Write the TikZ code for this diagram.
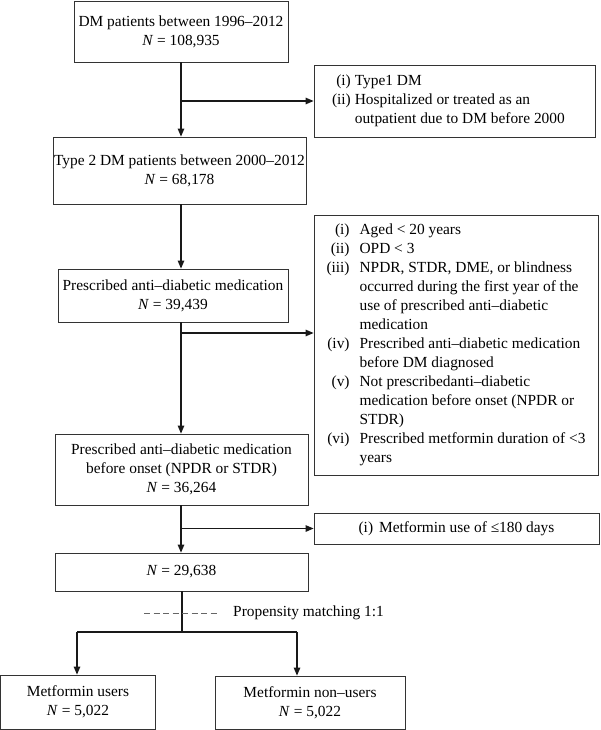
\documentclass[tikz,border=0pt]{standalone}
\usepackage{fontspec}
\setmainfont{Liberation Serif}
\usetikzlibrary{arrows.meta}
\begin{document}
\begin{tikzpicture}[x=1pt,y=-1pt,
  every node/.style={font=\fontsize{15.4}{19}\selectfont, inner sep=0pt},
  box/.style={draw=black!80, line width=0.8pt, align=center},
  exbox/.style={draw=black!80, line width=0.8pt, inner xsep=0pt},
  conn/.style={line width=1.2pt, black!90},
  arr/.style={conn, -{Triangle[length=8pt,width=6.5pt]}},
  matchline/.style={line width=1pt, black!60, dash pattern=on 6pt off 3.5pt}
]
\useasboundingbox (0,0) rectangle (600,730);
\coordinate (spine) at (181,0);

% main boxes
\node[box, minimum width=214pt, minimum height=61pt] (b1) at (181,31.5)
  {DM patients between 1996–2012\\ \textit{N} = 108,935};
\node[box, minimum width=253pt, minimum height=67pt] (b2) at (179.5,170.5)
  {Type 2 DM patients between 2000–2012\\ \textit{N} = 68,178};
\node[box, minimum width=230pt, minimum height=53pt] (b3) at (173,295.5)
  {Prescribed anti–diabetic medication\\ \textit{N} = 39,439};
\node[box, minimum width=253pt, minimum height=71pt] (b4) at (181.5,469.5)
  {Prescribed anti–diabetic medication\\ before onset (NPDR or STDR)\\ \textit{N} = 36,264};
\node[box, minimum width=253pt, minimum height=38pt] (b5) at (181.5,572)
  {\textit{N} = 29,638};
\node[box, minimum width=155pt, minimum height=54pt] (b6) at (78,702)
  {Metformin users\\ \textit{N} = 5,022};
\node[box, minimum width=190pt, minimum height=53pt] (b7) at (310,702.5)
  {Metformin non–users\\ \textit{N} = 5,022};

% exclusion boxes
\node[exbox, minimum width=281pt, minimum height=72pt] (e1) at (454.5,101)
  {\makebox[281pt][l]{\hspace{18pt}\begin{tabular}{@{}r@{\hspace{4pt}}l@{}}
  (i) & Type1 DM\\
  (ii) & Hospitalized or treated as an\\
       & outpatient due to DM before 2000
  \end{tabular}}};
\node[exbox, minimum width=284pt, minimum height=260pt] (e2) at (456,345)
  {\makebox[284pt][l]{\hspace{12.5pt}\begin{tabular}{@{}r@{\hspace{10pt}}l@{}}
  (i) & Aged < 20 years\\
  (ii) & OPD < 3\\
  (iii) & NPDR, STDR, DME, or blindness\\
        & occurred during the first year of the\\
        & use of prescribed anti–diabetic\\
        & medication\\
  (iv) & Prescribed anti–diabetic medication\\
       & before DM diagnosed\\
  (v) & Not prescribedanti–diabetic\\
      & medication before onset (NPDR or\\
      & STDR)\\
  (vi) & Prescribed metformin duration of <3\\
       & years
  \end{tabular}}};
\node[exbox, minimum width=285pt, minimum height=31pt] (e3) at (456.5,528.5)
  {(i)\hspace{6pt}Metformin use of ≤180 days};

% connectors
\coordinate (j1) at (181,101);
\coordinate (j2) at (181,333);
\coordinate (j3) at (181,528.5);
\draw[arr] (b1.south -| spine) -- (b2.north -| spine);
\draw[arr] (j1) -- (j1 -| e1.west);
\draw[arr] (b2.south -| spine) -- (b3.north -| spine);
\draw[arr] (b3.south -| spine) -- (b4.north -| spine);
\draw[arr] (j2) -- (j2 -| e2.west);
\draw[arr] (b4.south -| spine) -- (b5.north -| spine);
\draw[arr] (j3) -- (j3 -| e3.west);

\coordinate (split) at (182,632);
\coordinate (sl) at (77,632);
\coordinate (sr) at (297,632);
\draw[conn] (b5.south -| split) -- (split);
\draw[conn] (sl) -- (sr);
\draw[arr] (sl) -- (sl |- b6.north);
\draw[arr] (sr) -- (sr |- b7.north);

\coordinate (d1) at (144,613);
\coordinate (d2) at (218,613);
\draw[matchline] (d1) -- (d2);
\node[anchor=west] (pm) at (233,613) {Propensity matching 1:1};
\end{tikzpicture}
\end{document}
